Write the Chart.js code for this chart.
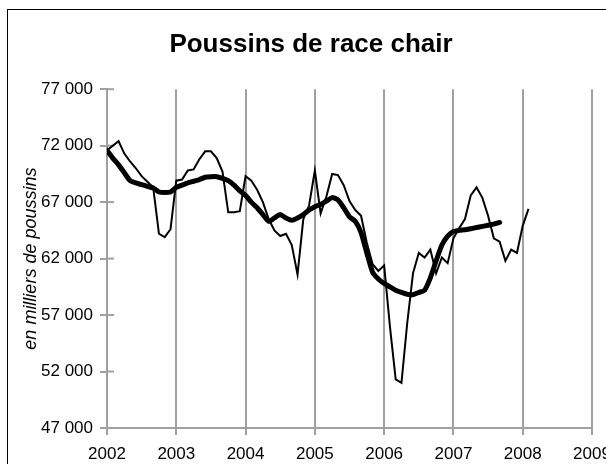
<!DOCTYPE html>
<html lang="fr">
<head>
<meta charset="utf-8">
<script src="https://cdn.jsdelivr.net/npm/chart.js@4"></script>
<style>
  html, body { margin: 0; padding: 0; background: #fff; width: 606px; height: 464px; overflow: hidden; }
  #cadre { position: absolute; left: 7px; top: 9px; width: 660px; height: 480px; border-left: 1px solid #000; border-top: 1px solid #000; }
</style>
</head>
<body>
<div id="cadre"><canvas id="graphique" width="660" height="480"></canvas></div>
<script>
const titre = "Poussins de race chair";
const titreAxeY = "en milliers de poussins";
const anneeDebut = 2002;
const annees = [2002, 2003, 2004, 2005, 2006, 2007, 2008, 2009];
const graduationsY = [47000, 52000, 57000, 62000, 67000, 72000, 77000];

// Données mensuelles (janvier 2002 - février 2008)
const mensuel = [
  71600, 72000, 72400, 71300, 70600, 70000, 69300, 68800, 68300, 64200, 63900, 64600,
  68900, 69000, 69800, 69900, 70800, 71500, 71500, 70900, 69700, 66100, 66100, 66200,
  69300, 68900, 68100, 67000, 65500, 64500, 64000, 64200, 63200, 60600, 65500, 66700,
  69800, 66000, 67500, 69500, 69400, 68500, 67100, 66300, 65800, 63400, 61500, 60900,
  61400, 56000, 51300, 51000, 56300, 60700, 62500, 62100, 62800, 60700, 62100, 61600,
  63800, 64700, 65500, 67600, 68300, 67400, 65800, 63800, 63500, 61800, 62800, 62500,
  64900, 66400
];

// Moyenne mobile (janvier 2002 - septembre 2007)
const moyenneMobile = [
  71600, 70900, 70300, 69600, 68900, 68700, 68550, 68400, 68250, 67900, 67850, 67900,
  68300, 68500, 68700, 68850, 69000, 69200, 69250, 69250, 69100, 68900, 68500, 68000,
  67600, 67000, 66500, 65900, 65300, 65600, 65900, 65600, 65400, 65600, 65900, 66300,
  66600, 66800, 67100, 67400, 67200, 66500, 65700, 65300, 64300, 62500, 60800, 60200,
  59800, 59500, 59200, 59000, 58850, 58800, 59000, 59200, 60300, 61800, 63200, 64000,
  64400, 64500, 64550, 64650, 64750, 64850, 64950, 65050, 65200
];

const gris = "#a0a0a0";

function versPoints(valeurs) {
  return valeurs.map((v, i) => ({ x: anneeDebut + i / 12, y: v }));
}

function formatMilliers(v) {
  return String(v).replace(/\B(?=(\d{3})+(?!\d))/g, " ");
}

// petits traits qui traversent l'axe vertical
const traitsInterieurs = {
  id: "traitsInterieurs",
  beforeDatasetsDraw(chart) {
    const axe = chart.scales.y;
    const ctx = chart.ctx;
    ctx.save();
    ctx.strokeStyle = gris;
    ctx.lineWidth = 2;
    axe.ticks.forEach(t => {
      const py = axe.getPixelForValue(t.value);
      ctx.beginPath();
      ctx.moveTo(axe.right, py);
      ctx.lineTo(axe.right + 7, py);
      ctx.stroke();
    });
    ctx.restore();
  }
};

Chart.defaults.font.family = "'Liberation Sans', Arial, sans-serif";
Chart.defaults.color = "#000";

new Chart(document.getElementById("graphique"), {
  type: "line",
  data: {
    datasets: [
      { label: "Moyenne mobile", data: versPoints(moyenneMobile), borderColor: "#000", borderWidth: 5, pointRadius: 0, tension: 0.2, borderJoinStyle: "round", borderCapStyle: "round" },
      { label: "Mensuel", data: versPoints(mensuel), borderColor: "#000", borderWidth: 2, pointRadius: 0, tension: 0 }
    ]
  },
  options: {
    responsive: false,
    animation: false,
    events: [],
    layout: { padding: { left: 0, right: 54, top: 0, bottom: 0 } },
    plugins: {
      legend: { display: false },
      tooltip: { enabled: false },
      title: {
        display: true,
        text: titre,
        font: { size: 26, weight: "bold" },
        color: "#000",
        padding: { top: 19, bottom: 29 }
      }
    },
    scales: {
      x: {
        type: "linear",
        min: annees[0],
        max: annees[annees.length - 1],
        afterBuildTicks: axe => { axe.ticks = annees.map(a => ({ value: a })); },
        afterFit: axe => { axe.height = 62; },
        ticks: { font: { size: 17 }, padding: 9, maxRotation: 0, callback: v => String(v) },
        grid: { color: gris, lineWidth: 2, tickLength: 7 },
        border: { color: gris, width: 2 }
      },
      y: {
        min: graduationsY[0],
        max: graduationsY[graduationsY.length - 1],
        afterBuildTicks: axe => { axe.ticks = graduationsY.map(v => ({ value: v })); },
        afterFit: axe => { axe.width = 99; },
        ticks: { font: { size: 17 }, padding: 7, callback: v => formatMilliers(v) },
        grid: { drawOnChartArea: false, color: gris, lineWidth: 2, tickLength: 7 },
        border: { color: gris, width: 2 },
        title: { display: true, text: titreAxeY, font: { size: 18, style: "italic" }, padding: { top: 12, bottom: 0 } }
      },
      marge: {
        position: "right",
        min: 0,
        max: 1,
        afterFit: axe => { axe.width = 22; },
        ticks: { display: false },
        grid: { display: false },
        border: { display: false }
      }
    }
  },
  plugins: [traitsInterieurs]
});
</script>
</body>
</html>
